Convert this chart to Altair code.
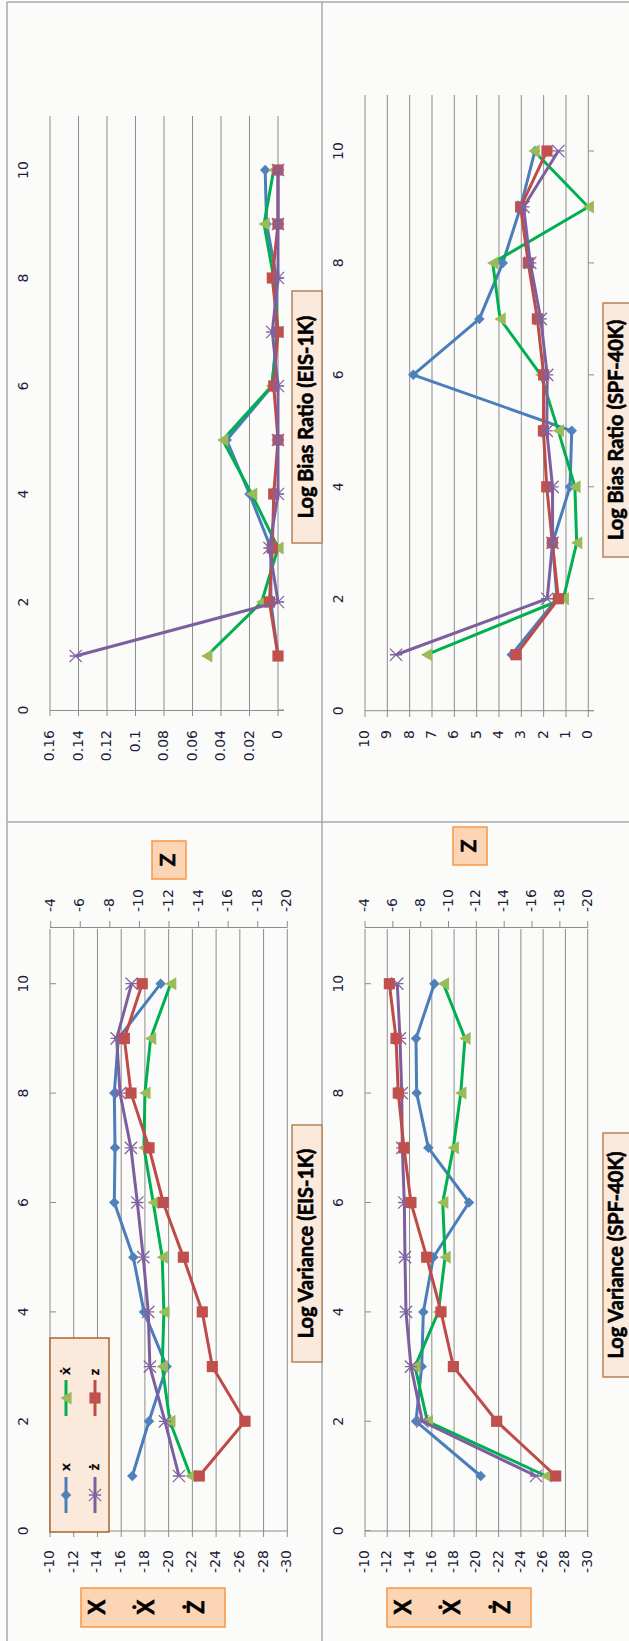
import altair as alt
import pandas as pd

# ---------------- data ----------------
steps = [1, 2, 3, 4, 5, 6, 7, 8, 9, 10]

# Log bias ratio, EIS-1K
bias_eis_x = [0.0, 0.005, 0.005, 0.020, 0.036, 0.004, 0.001, 0.001, 0.008, 0.009]
bias_eis_xdot = [0.050, 0.0115, 0.0, 0.0185, 0.0388, 0.0045, 0.0, 0.003, 0.0098, 0.003]
bias_eis_zdot = [0.142, 0.0, 0.006, 0.0, 0.0, 0.0, 0.004, 0.0, 0.0, 0.0]
bias_eis_z = [0.0, 0.006, 0.004, 0.003, 0.0, 0.003, 0.0, 0.004, 0.0, 0.0]

# Log bias ratio, SPF-40K
bias_spf_x = [3.43, 1.40, 1.60, 0.82, 0.74, 7.84, 4.88, 3.83, 3.03, 2.39]
bias_spf_xdot = [7.24, 1.12, 0.52, 0.60, 1.34, 2.13, 3.95, 4.28, 0.0, 2.43]
bias_spf_zdot = [8.61, 1.84, 1.60, 1.60, 1.86, 1.84, 2.13, 2.60, 2.90, 1.34]
bias_spf_z = [3.24, 1.34, 1.61, 1.86, 2.01, 2.00, 2.28, 2.69, 3.03, 1.85]

# Log variance, EIS-1K (z on the secondary axis)
var_eis_x = [-16.94, -18.34, -19.83, -17.92, -17.02, -15.42, -15.48, -15.42, -15.76, -19.33]
var_eis_xdot = [-21.85, -20.10, -19.46, -19.60, -19.46, -18.70, -17.92, -18.00, -18.48, -20.17]
var_eis_zdot = [-20.87, -19.69, -18.42, -18.28, -17.86, -17.36, -16.82, -15.90, -15.62, -16.88]
var_eis_z = [-14.05, -17.14, -14.93, -14.25, -12.97, -11.61, -10.65, -9.43, -8.98, -10.19]

# Log variance, SPF-40K (z on the secondary axis)
var_spf_x = [-20.39, -14.58, -15.09, -15.24, -16.14, -19.34, -15.69, -14.64, -14.58, -16.23]
var_spf_xdot = [-26.26, -15.60, -14.49, -16.59, -17.19, -16.98, -17.93, -18.60, -18.98, -17.04]
var_spf_zdot = [-25.36, -15.15, -14.13, -13.68, -13.59, -13.53, -13.35, -13.30, -13.14, -12.90]
var_spf_z = [-17.70, -13.46, -10.35, -9.46, -8.43, -7.30, -6.80, -6.39, -6.23, -5.75]

# axis ticks and their labels
step_ticks = [0, 2, 4, 6, 8, 10]
step_labels = ["0", "2", "4", "6", "8", "10"]
bias_eis_ticks = [0, 0.02, 0.04, 0.06, 0.08, 0.10, 0.12, 0.14, 0.16]
bias_eis_labels = ["0", "0.02", "0.04", "0.06", "0.08", "0.1", "0.12", "0.14", "0.16"]
bias_spf_ticks = [0, 1, 2, 3, 4, 5, 6, 7, 8, 9, 10]
bias_spf_labels = ["0", "1", "2", "3", "4", "5", "6", "7", "8", "9", "10"]
var_ticks = [-10, -12, -14, -16, -18, -20, -22, -24, -26, -28, -30]
var_labels = ["-10", "-12", "-14", "-16", "-18", "-20", "-22", "-24", "-26", "-28", "-30"]
z_ticks = [-4, -6, -8, -10, -12, -14, -16, -18, -20]
z_labels = ["-4", "-6", "-8", "-10", "-12", "-14", "-16", "-18", "-20"]

series_names = ["x", "ẋ", "ż", "z"]
axis_title_lines = ["X", "Ẋ", "Ż"]

# ---------------- styling ----------------
BG = "#fbfcf9"
GRID = "#8c8c8c"
FRAME = "#a8a8a8"
TICK_TEXT = "#1c1c3c"
TICK_FONT = "DejaVu Sans"
TITLE_FONT = "Lato"
STAR = "M-1,-1L1,1M1,-1L-1,1M-1,0L1,0"

STYLE = {
    "x": dict(line="#4A7EBB", shape="diamond", color="#4F81BD", size=110, filled=True),
    "ẋ": dict(line="#00B050", shape="triangle-left", color="#9BBB59", size=170, filled=True),
    "ż": dict(line="#7D5FA0", shape=STAR, color="#8064A2", size=150, filled=False),
    "z": dict(line="#BE4B48", shape="square", color="#C0504D", size=125, filled=True),
}
LINE_W = 3.0

layers = []


def scale(domain, rng):
    return alt.Scale(domain=domain, range=rng, nice=False, zero=False)


def qx(field, sc):
    return alt.X(field, type="quantitative", scale=sc, axis=None)


def qy(field, sc):
    return alt.Y(field, type="quantitative", scale=sc, axis=None)


def series(values, name, xs, ys):
    st = STYLE[name]
    df = pd.DataFrame({"step": steps, "v": values})
    base = alt.Chart(df).encode(x=qx("v", xs), y=qy("step", ys), order=alt.Order("step:Q"))
    line = base.mark_line(color=st["line"], strokeWidth=LINE_W, strokeJoin="round")
    if st["filled"]:
        pts = base.mark_point(shape=st["shape"], filled=True, color=st["color"],
                              size=st["size"], opacity=1)
    else:
        pts = base.mark_point(shape=st["shape"], filled=False, color=st["color"],
                              size=st["size"], strokeWidth=1.3, opacity=1)
    return [line, pts]


def value_grid(ticks, xs, top, bottom):
    df = pd.DataFrame({"v": ticks})
    return alt.Chart(df).mark_rule(color=GRID, strokeWidth=1).encode(
        x=qx("v", xs), y=alt.value(top), y2=alt.value(bottom))


def value_ticks(ticks, xs, y0, y1):
    df = pd.DataFrame({"v": ticks})
    return alt.Chart(df).mark_rule(color=GRID, strokeWidth=1).encode(
        x=qx("v", xs), y=alt.value(y0), y2=alt.value(y1))


def step_ticks_marks(ys, x0, x1):
    df = pd.DataFrame({"s": step_ticks})
    return alt.Chart(df).mark_rule(color=GRID, strokeWidth=1).encode(
        y=qy("s", ys), x=alt.value(x0), x2=alt.value(x1))


def value_labels(ticks, labels, xs, ypos, align):
    df = pd.DataFrame({"v": ticks, "t": labels})
    return alt.Chart(df).mark_text(angle=270, align=align, baseline="middle",
                                   font=TICK_FONT, fontSize=14, color=TICK_TEXT).encode(
        x=qx("v", xs), y=alt.value(ypos), text="t:N")


def step_label_marks(ys, xpos):
    df = pd.DataFrame({"s": step_ticks, "t": step_labels})
    return alt.Chart(df).mark_text(angle=270, align="center", baseline="middle",
                                   font=TICK_FONT, fontSize=14, color=TICK_TEXT).encode(
        y=qy("s", ys), x=alt.value(xpos), text="t:N")


def hline(x0, x1, y, color=GRID, width=1):
    return alt.Chart(pd.DataFrame({"k": [0]})).mark_rule(color=color, strokeWidth=width).encode(
        x=alt.value(x0), x2=alt.value(x1), y=alt.value(y))


def vline(x, y0, y1, color=GRID, width=1):
    return alt.Chart(pd.DataFrame({"k": [0]})).mark_rule(color=color, strokeWidth=width).encode(
        x=alt.value(x), y=alt.value(y0), y2=alt.value(y1))


def box(x0, x1, y0, y1, fill, stroke):
    return alt.Chart(pd.DataFrame({"k": [0]})).mark_rect(
        fill=fill, stroke=stroke, strokeWidth=1.5).encode(
        x=alt.value(x0), x2=alt.value(x1), y=alt.value(y0), y2=alt.value(y1))


def label(text, x, y, size, heavy=0.6):
    return alt.Chart(pd.DataFrame({"t": [text]})).mark_text(
        angle=270, align="center", baseline="middle", font=TITLE_FONT, fontSize=size,
        fontWeight="bold", color="#000000", stroke="#000000", strokeWidth=heavy
    ).encode(x=alt.value(x), y=alt.value(y), text="t:N")


# ---------------- frame ----------------
layers += [
    vline(7, 2, 1641, FRAME, 1.5),
    hline(7, 629, 2, FRAME, 1.5),
    vline(322, 2, 1641, FRAME, 1.5),
    hline(7, 629, 822, FRAME, 1.5),
]

# ---------------- Log Bias Ratio (EIS-1K) ----------------
xs = scale([0, 0.16], [278, 50])
ys = scale([0, 11], [710, 116])
layers += [
    value_grid(bias_eis_ticks, xs, 116, 710),
    hline(50, 284, 710.5),
    value_ticks(bias_eis_ticks, xs, 710, 716),
    step_ticks_marks(ys, 278, 284),
    value_labels(bias_eis_ticks, bias_eis_labels, xs, 730, "right"),
    step_label_marks(ys, 24),
]
for name, vals in zip(["x", "ẋ", "z", "ż"], [bias_eis_x, bias_eis_xdot, bias_eis_z, bias_eis_zdot]):
    layers += series(vals, name, xs, ys)
layers += [box(292, 322, 291, 543, "#fbe9db", "#b5835a"),
           label("Log Bias Ratio (EIS-1K)", 307, 417, 20)]

# ---------------- Log Bias Ratio (SPF-40K) ----------------
xs = scale([0, 10], [588.3, 365])
ys = scale([0, 11], [710.7, 95])
layers += [
    value_grid(bias_spf_ticks, xs, 95, 711),
    hline(365, 594, 710.7),
    value_ticks(bias_spf_ticks, xs, 711, 717),
    step_ticks_marks(ys, 588, 594),
    value_labels(bias_spf_ticks, bias_spf_labels, xs, 730, "right"),
    step_label_marks(ys, 339),
]
for name, vals in zip(["x", "ẋ", "z", "ż"], [bias_spf_x, bias_spf_xdot, bias_spf_z, bias_spf_zdot]):
    layers += series(vals, name, xs, ys)
layers += [box(603, 634, 303, 557, "#fbe9db", "#b5835a"),
           label("Log Bias Ratio (SPF-40K)", 617, 430, 20)]


# ---------------- Log Variance panels ----------------
def variance_panel(x_left, x_right, z_left, label_x, vx, vxd, vzd, vz):
    xs = scale([-30, -10], [x_right, x_left])
    zs = scale([-20, -4], [x_right, z_left])
    ys = scale([0, 11], [1530.7, 929])
    out = [
        value_grid(var_ticks, xs, 929, 1531),
        hline(x_left, x_right, 1531),
        value_ticks(var_ticks, xs, 1531, 1537),
        hline(x_left, x_right, 927.5),
        value_ticks(z_ticks, zs, 921, 927.5),
        step_ticks_marks(ys, x_left, x_left + 6),
        value_labels(var_ticks, var_labels, xs, 1550, "right"),
        value_labels(z_ticks, z_labels, zs, 912, "left"),
        step_label_marks(ys, label_x),
    ]
    out += series(vx, "x", xs, ys)
    out += series(vxd, "ẋ", xs, ys)
    out += series(vzd, "ż", xs, ys)
    out += series(vz, "z", zs, ys)
    return out


layers += variance_panel(50, 287.3, 50.7, 24, var_eis_x, var_eis_xdot, var_eis_zdot, var_eis_z)
layers += [box(292, 322, 1125, 1362, "#fbe9db", "#b5835a"),
           label("Log Variance (EIS-1K)", 307, 1243.5, 20)]
layers += [box(152, 186, 841, 879, "#fcd5b4", "#f79646"), label("Z", 169, 860, 21)]
layers += [box(81, 225, 1588, 1627, "#fcd5b4", "#f79646")]
for t, xp in zip(axis_title_lines, [98, 147, 197]):
    layers.append(label(t, xp, 1607, 22))

layers += variance_panel(365, 587.7, 365, 339, var_spf_x, var_spf_xdot, var_spf_zdot, var_spf_z)
layers += [box(603, 634, 1133, 1377, "#fbe9db", "#b5835a"),
           label("Log Variance (SPF-40K)", 617, 1255, 20)]
layers += [box(453, 487, 827, 865, "#fcd5b4", "#f79646"), label("Z", 470, 846, 21)]
layers += [box(387, 531, 1588, 1627, "#fcd5b4", "#f79646")]
for t, xp in zip(axis_title_lines, [404, 453, 503]):
    layers.append(label(t, xp, 1607, 22))

# ---------------- legend (EIS-1K variance panel) ----------------
layers.append(box(50, 109, 1338, 1532, "#fbe9db", "#a8652f"))
legend_slots = {"x": (66, 1495, 1467), "ẋ": (66, 1398, 1371), "ż": (95, 1495, 1467), "z": (95, 1398, 1372)}
for name in series_names:
    lx, ly, ty = legend_slots[name]
    st = STYLE[name]
    layers.append(vline(lx, ly - 18, ly + 18, st["line"], LINE_W))
    pt = alt.Chart(pd.DataFrame({"k": [0]})).mark_point(
        shape=st["shape"], filled=st["filled"], color=st["color"], size=st["size"],
        strokeWidth=1.3, opacity=1).encode(x=alt.value(lx), y=alt.value(ly))
    layers.append(pt)
    layers.append(label(name, lx, ty, 14, heavy=0.3))

chart = alt.layer(*layers).resolve_scale(
    x="independent", y="independent"
).properties(
    width=629, height=1641, padding=0,
    autosize=alt.AutoSizeParams(type="none"), background=BG,
).configure_view(stroke=None)

chart.save("out.html", embed_options={"renderer": "svg", "actions": False})
